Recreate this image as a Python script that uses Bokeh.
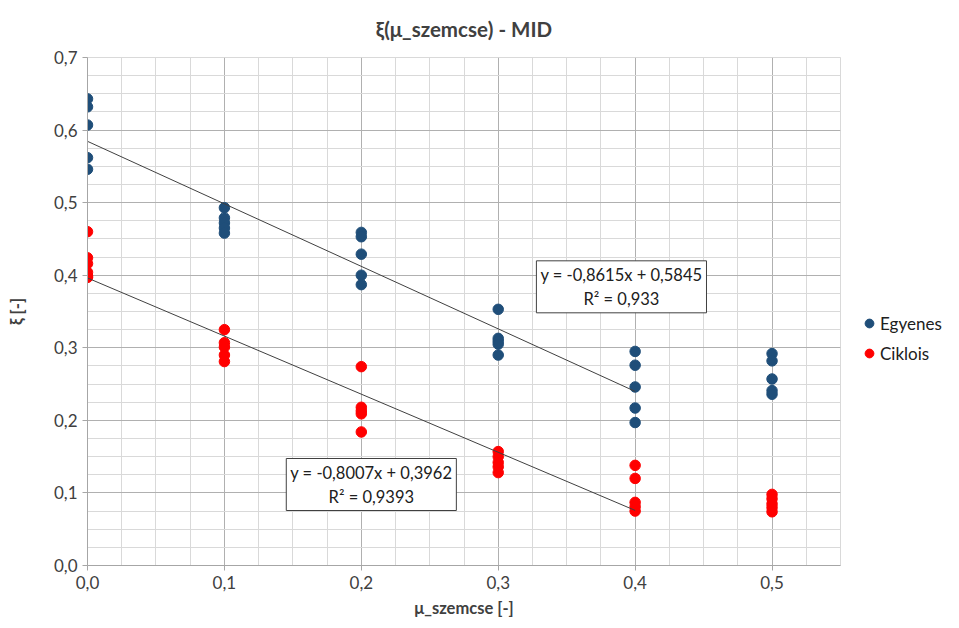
from bokeh.plotting import figure
from bokeh.models import (FixedTicker, CustomJSTickFormatter, Label, Legend,
                          LegendItem, ColumnDataSource, Range1d)
from bokeh.embed import file_html
from bokeh.resources import INLINE

# ---- data ----
mu_levels = [0.0, 0.1, 0.2, 0.3, 0.4, 0.5]
egyenes = [
    [0.643, 0.632, 0.607, 0.562, 0.546],
    [0.493, 0.479, 0.472, 0.465, 0.458],
    [0.459, 0.453, 0.429, 0.400, 0.387],
    [0.353, 0.313, 0.309, 0.305, 0.290],
    [0.295, 0.276, 0.246, 0.217, 0.197],
    [0.292, 0.282, 0.257, 0.241, 0.236],
]
ciklois = [
    [0.460, 0.424, 0.416, 0.404, 0.399, 0.397],
    [0.325, 0.307, 0.301, 0.290, 0.281],
    [0.274, 0.218, 0.213, 0.209, 0.184],
    [0.157, 0.150, 0.142, 0.136, 0.128],
    [0.138, 0.120, 0.087, 0.081, 0.075],
    [0.098, 0.092, 0.085, 0.080, 0.074],
]
trend_x = [0.0, 0.4]
egy_slope, egy_icpt = -0.8615, 0.5845
cik_slope, cik_icpt = -0.8007, 0.3962
egy_label = "y = -0,8615x + 0,5845\nR² = 0,933"
cik_label = "y = -0,8007x + 0,3962\nR² = 0,9393"
x_ticks = [0.0, 0.1, 0.2, 0.3, 0.4, 0.5]
y_ticks = [0.0, 0.1, 0.2, 0.3, 0.4, 0.5, 0.6, 0.7]

FONT = "Lato"
BLUE = "#1F4E79"
RED = "#FF0000"

def flatten(levels, groups):
    xs, ys = [], []
    for xv, g in zip(levels, groups):
        for yv in g:
            xs.append(xv)
            ys.append(yv)
    return xs, ys

ex, ey = flatten(mu_levels, egyenes)
cx, cy = flatten(mu_levels, ciklois)

p = figure(frame_width=753, frame_height=508, output_backend="svg",
           toolbar_location=None,
           x_range=Range1d(0, 0.55), y_range=Range1d(0, 0.7),
           min_border_left=87, min_border_right=119, min_border_top=0,
           min_border_bottom=63)

p.title.text = "ξ(μ_szemcse) - MID"
p.title.align = "center"
p.title.vertical_align = "middle"
p.title.text_font = FONT
p.title.text_font_size = "20.5px"
p.title.text_font_style = "bold"
p.title.text_color = "#404040"
p.title.padding = 5
p.title.standoff = 21

minor_x = [i * 0.025 for i in range(0, 23)]
minor_y = [i * 0.025 for i in range(0, 29)]
xt = FixedTicker(ticks=x_ticks, minor_ticks=minor_x)
yt = FixedTicker(ticks=y_ticks, minor_ticks=minor_y)
p.xaxis.ticker = xt
p.yaxis.ticker = yt
p.xgrid.ticker = xt
p.ygrid.ticker = yt
fmt = CustomJSTickFormatter(code="return tick.toFixed(1).replace('.', ',');")
p.xaxis.formatter = fmt
p.yaxis.formatter = fmt

for g in (p.xgrid, p.ygrid):
    g.grid_line_color = "#b0b0b0"
    g.grid_line_width = 1
    g.minor_grid_line_color = "#d9d9d9"
    g.minor_grid_line_width = 1

for ax in (p.xaxis, p.yaxis):
    ax.axis_line_color = "#a6a6a6"
    ax.major_tick_line_color = "#a6a6a6"
    ax.major_tick_out = 5
    ax.major_tick_in = 0
    ax.minor_tick_line_color = None
    ax.major_label_text_font = FONT
    ax.major_label_text_font_size = "17px"
    ax.major_label_text_color = "#404040"
    ax.axis_label_text_font = FONT
    ax.axis_label_text_font_size = "16.5px"
    ax.axis_label_text_font_style = "bold"
    ax.axis_label_text_color = "#404040"

p.yaxis.axis_label_standoff = 24
p.xaxis.axis_label_standoff = 6
p.xaxis.axis_label = "μ_szemcse [-]"
p.yaxis.axis_label = "ξ [-]"
p.outline_line_color = "#d9d9d9"

src_e = ColumnDataSource(dict(x=ex, y=ey))
src_c = ColumnDataSource(dict(x=cx, y=cy))
r_e = p.scatter("x", "y", source=src_e, size=10.5, color=BLUE)
r_c = p.scatter("x", "y", source=src_c, size=10.5, color=RED)

ty_e = [egy_slope * x + egy_icpt for x in trend_x]
ty_c = [cik_slope * x + cik_icpt for x in trend_x]
p.line(trend_x, ty_e, line_color="#404040", line_width=1)
p.line(trend_x, ty_c, line_color="#404040", line_width=1)

for txt, lx, ly in ((egy_label, 0.390, 0.384), (cik_label, 0.2073, 0.1116)):
    p.add_layout(Label(x=lx, y=ly, text=txt, text_align="center",
                       text_baseline="middle", text_font=FONT,
                       text_font_size="16.5px", text_color="#202020",
                       background_fill_color="white",
                       border_line_color="#404040", border_line_width=1,
                       padding=4))

legend = Legend(items=[LegendItem(label="Egyenes", renderers=[r_e]),
                       LegendItem(label="Ciklois", renderers=[r_c])],
                location=(18, 201), background_fill_alpha=0,
                border_line_color=None, label_text_font=FONT,
                label_text_font_size="17px", label_text_color="#202020",
                glyph_width=22, glyph_height=22, spacing=8,
                label_standoff=0, padding=0, margin=0)
p.add_layout(legend, "right")

open("out.html", "w").write(file_html(p, INLINE))
